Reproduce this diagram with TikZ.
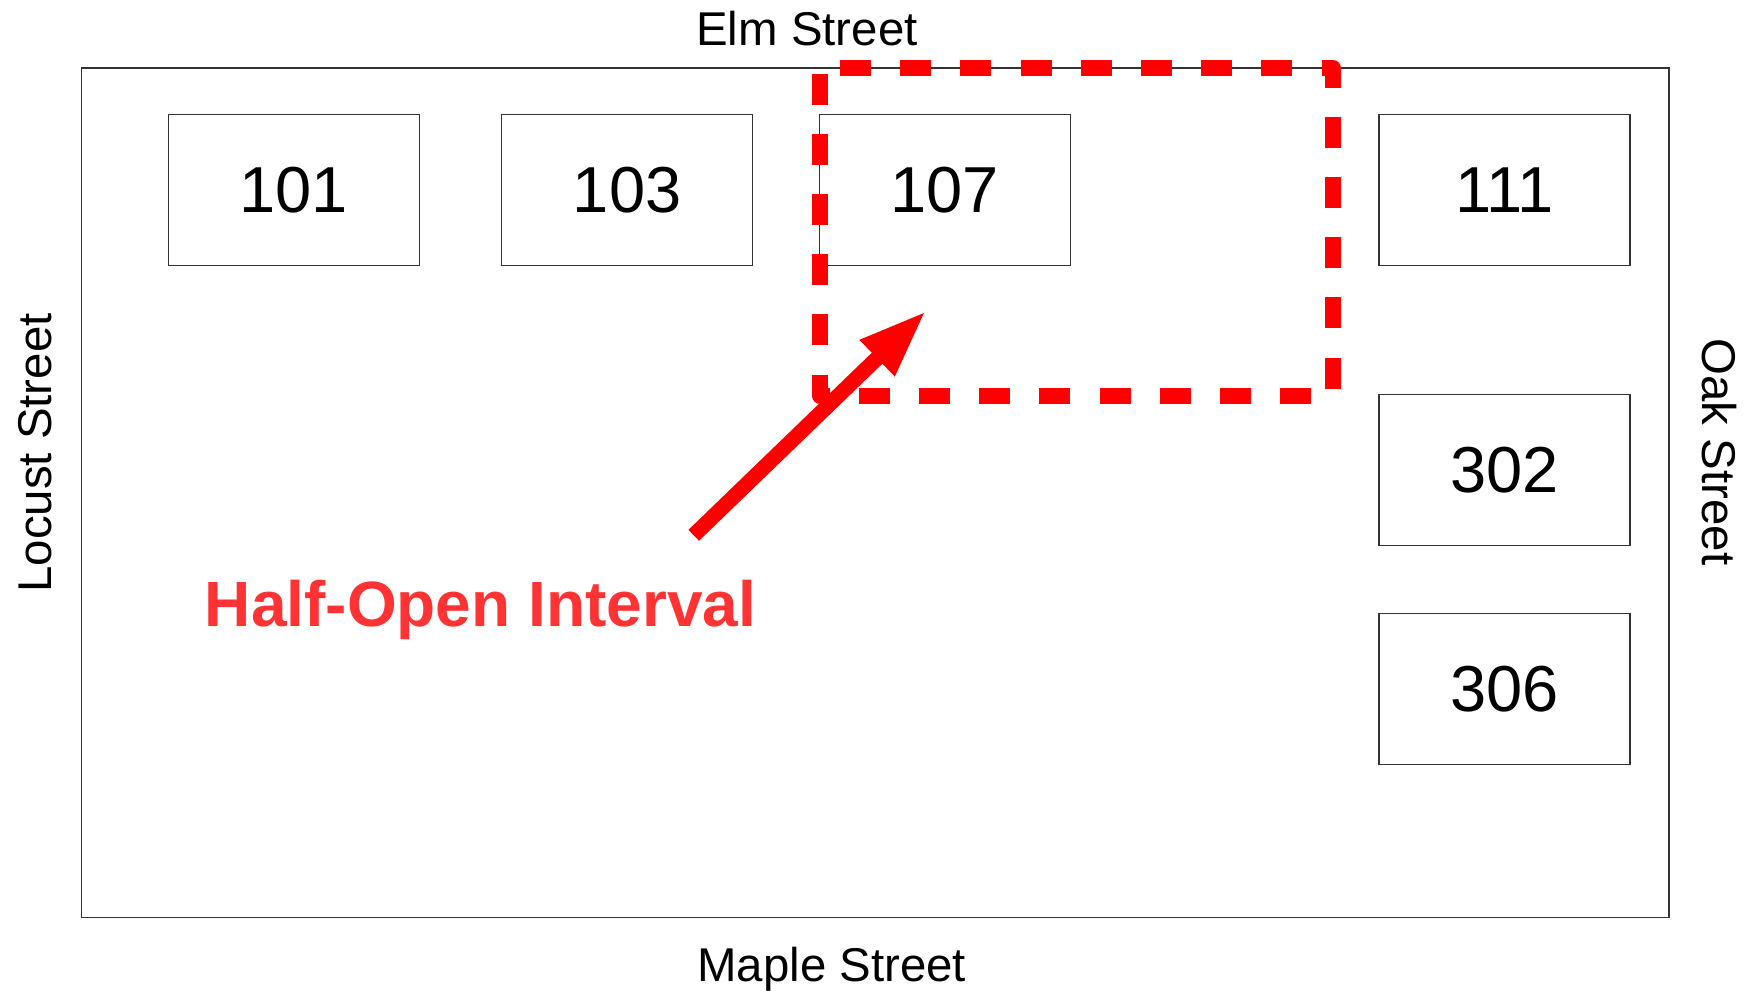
\documentclass[tikz,border=0pt]{standalone}
\usepackage{fontspec}
\setmainfont{Liberation Sans}
\usetikzlibrary{arrows.meta}
\definecolor{labelred}{RGB}{255,51,51}
\definecolor{markred}{RGB}{255,0,0}

\begin{document}
\begin{tikzpicture}[x=0.5pt,y=-0.5pt,
  lot/.style={draw=black!80, line width=0.6pt, minimum width=125.5pt,
    minimum height=75.25pt, inner sep=0pt, font=\fontsize{32.5}{38}\selectfont},
  street/.style={inner sep=0pt, font=\fontsize{23.7}{28}\selectfont},
  interval/.style={draw=markred, line width=7.75pt, line join=round,
    dash pattern=on 15.5pt off 14.6pt},
  pointer/.style={draw=markred, line width=7.6pt,
    -{Triangle[length=34pt,width=23pt]}},
]
\useasboundingbox (0,0) rectangle (1748,990);

% block outline
\draw[black!80, line width=0.6pt] (81.5,68) rectangle (1669,917.5);

% streets
\node[street, anchor=base] (elm) at (807,45.7) {Elm Street};
\node[street, anchor=base] (maple) at (831.7,981.7) {Maple Street};
\node[street, anchor=base, rotate=90] (locust) at (51.5,453) {Locust Street};
\node[street, anchor=base, rotate=-90] (oak) at (1702.5,452) {Oak Street};

% lots
\node[lot] (l101) at (293.75,190) {101};
\node[lot] (l103) at (627.1,190) {103};
\node[lot] (l107) at (944.8,190) {107};
\node[lot] (l111) at (1504.4,190) {111};
\node[lot] (l302) at (1504.4,470) {302};
\node[lot] (l306) at (1504.4,689) {306};

% half-open interval marker
\draw[interval] (840,68) -- (1333,68) -- (1333,396) -- (820,396) -- (820,68) -- cycle;

% label and pointer
\node[anchor=base, inner sep=0pt, text=labelred,
  font=\bfseries\fontsize{32}{38}\selectfont] (label) at (480.4,626) {Half-Open Interval};
\coordinate (arrowtail) at (693.7,535.3);
\coordinate (arrowtip) at (926,311);
\draw[pointer] (arrowtail) -- (arrowtip);
\end{tikzpicture}
\end{document}
